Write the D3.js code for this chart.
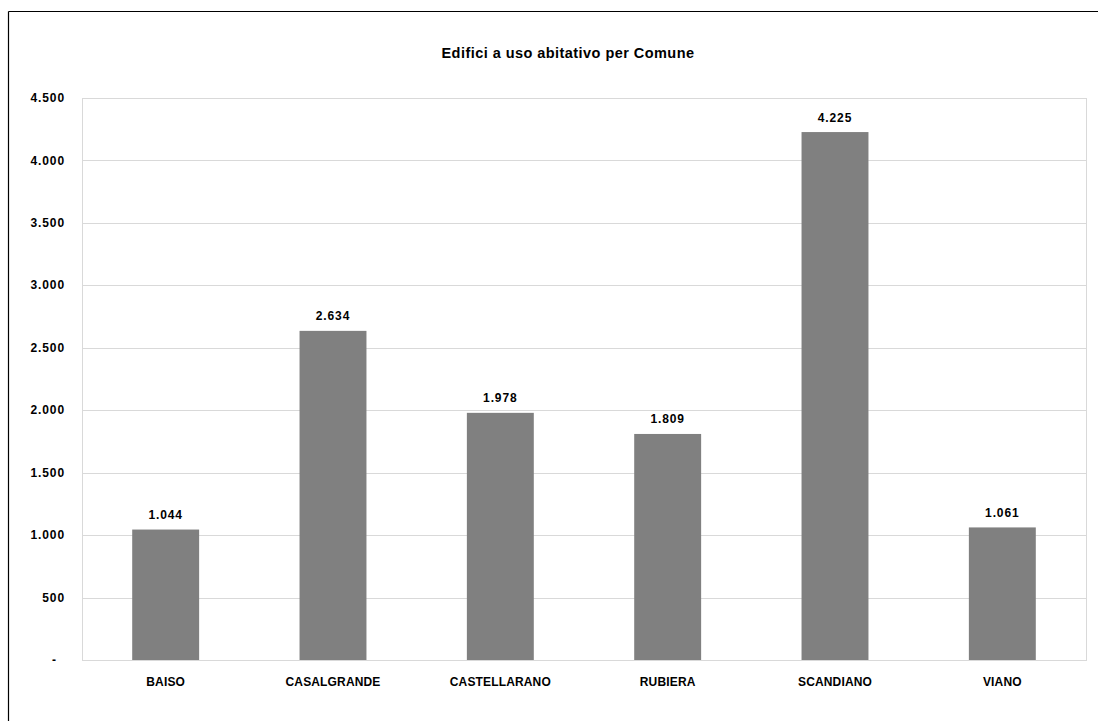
<!DOCTYPE html>
<html>
<head>
<meta charset="utf-8">
<script src="https://cdn.jsdelivr.net/npm/d3@7"></script>
<style>
  html, body { margin: 0; padding: 0; background: #fff; }
  svg { display: block; font-family: "Liberation Sans", Arial, sans-serif; }
</style>
</head>
<body>
<svg id="chart" width="1098" height="721"></svg>
<script>
const title = "Edifici a uso abitativo per Comune";
const categories = ["BAISO", "CASALGRANDE", "CASTELLARANO", "RUBIERA", "SCANDIANO", "VIANO"];
const values = [1044, 2634, 1978, 1809, 4225, 1061];
const yTicks = [0, 500, 1000, 1500, 2000, 2500, 3000, 3500, 4000, 4500];
const yTickLabels = ["-", "500", "1.000", "1.500", "2.000", "2.500", "3.000", "3.500", "4.000", "4.500"];
const valueLabels = ["1.044", "2.634", "1.978", "1.809", "4.225", "1.061"];

const svg = d3.select("#chart");
const W = 1098, H = 721;
const plot = { left: 82, right: 1086, top: 97.7, bottom: 660 };

// outer frame (top + left edges visible)
svg.append("line").attr("x1", 8.5).attr("x2", W).attr("y1", 11.5).attr("y2", 11.5)
  .attr("stroke", "#000").attr("stroke-width", 1.2);
svg.append("line").attr("x1", 8.5).attr("x2", 8.5).attr("y1", 11.5).attr("y2", H)
  .attr("stroke", "#000").attr("stroke-width", 1.2);

const x = d3.scaleBand().domain(categories).range([plot.left, plot.right])
  .paddingInner(0.6).paddingOuter(0.3);
const y = d3.scaleLinear().domain([0, 4500]).range([plot.bottom, plot.top]);

// gridlines
svg.append("g").selectAll("line").data(yTicks).join("line")
  .attr("x1", plot.left).attr("x2", plot.right)
  .attr("y1", d => Math.round(y(d)) + 0.5).attr("y2", d => Math.round(y(d)) + 0.5)
  .attr("stroke", "#d9d9d9").attr("stroke-width", 1);
// plot area border
svg.append("rect")
  .attr("x", plot.left + 0.5).attr("y", Math.round(y(4500)) + 0.5)
  .attr("width", plot.right - plot.left).attr("height", Math.round(y(0)) - Math.round(y(4500)))
  .attr("fill", "none").attr("stroke", "#d9d9d9");

// bars
svg.append("g").selectAll("rect").data(values).join("rect")
  .attr("x", (d, i) => x(categories[i]))
  .attr("width", x.bandwidth())
  .attr("y", d => y(d))
  .attr("height", d => y(0) - y(d))
  .attr("fill", "#808080");

// y axis
const yAxis = d3.axisLeft(y).tickValues(yTicks).tickSize(0).tickPadding(0)
  .tickFormat((d, i) => yTickLabels[i]);
const gy = svg.append("g").attr("transform", `translate(${plot.left - 17},0)`).call(yAxis);
gy.select(".domain").remove();
gy.selectAll("text")
  .attr("font-family", "'Liberation Sans', Arial, sans-serif")
  .attr("font-weight", "bold").attr("font-size", 12).attr("fill", "#000")
  .style("letter-spacing", "0.9px")
  .attr("dx", (d) => d === 0 ? -8 : 0);

// x axis
const xAxis = d3.axisBottom(x).tickSize(0).tickPadding(0);
const gx = svg.append("g").attr("transform", `translate(0,${plot.bottom})`).call(xAxis);
gx.select(".domain").remove();
gx.selectAll("text")
  .attr("font-family", "'Liberation Sans', Arial, sans-serif")
  .attr("font-weight", "bold").attr("font-size", 12).attr("fill", "#000")
  .attr("dy", null).attr("y", 25.5)
  .style("letter-spacing", "0.15px");

// value labels
svg.append("g").selectAll("text").data(values).join("text")
  .attr("x", (d, i) => x(categories[i]) + x.bandwidth() / 2)
  .attr("y", d => y(d) - 10.5)
  .attr("text-anchor", "middle")
  .attr("font-weight", "bold").attr("font-size", 12).attr("fill", "#000")
  .style("letter-spacing", "0.9px")
  .text((d, i) => valueLabels[i]);

// title
svg.append("text")
  .attr("x", 568).attr("y", 58)
  .attr("text-anchor", "middle")
  .attr("font-weight", "bold").attr("font-size", 14.5).attr("fill", "#000")
  .style("letter-spacing", "0.45px")
  .text(title);
</script>
</body>
</html>
